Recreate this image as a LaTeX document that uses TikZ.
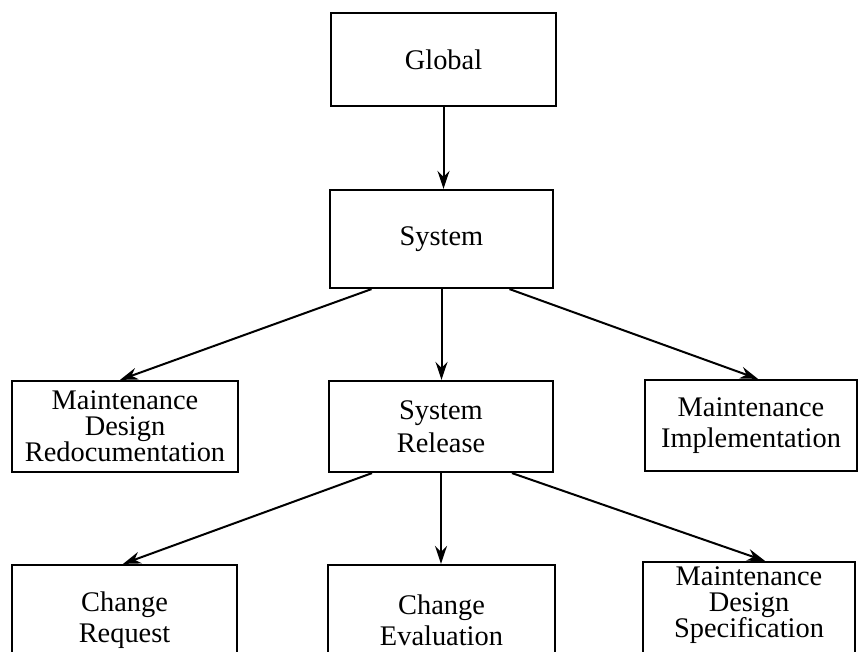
\documentclass[tikz,border=0pt]{standalone}
\usepackage{fontspec}
\setmainfont{Liberation Serif}
\usetikzlibrary{arrows.meta,calc}
\newcommand\tightlines{\fontsize{14.2}{13}\selectfont\lineskiplimit=-100pt\relax}
\begin{document}
\begin{tikzpicture}[x=0.5pt,y=-0.5pt,
  blk/.style={draw, line width=1.1pt, align=center, inner sep=0pt,
    font=\fontsize{14.2}{15.5}\selectfont},
  tight/.style={font=\tightlines},
  arr/.style={-{Stealth[length=9pt,width=6pt]}, line width=1pt}]
 \useasboundingbox (0,0) rectangle (858,652);
 \clip (0,0) rectangle (858,652);
 % top
 \node[blk, minimum width=112.5pt, minimum height=46.5pt] (glob) at (443.5,59.5) {Global};
 \node[blk, minimum width=111.5pt, minimum height=49pt] (sys) at (441.5,239) {System};
 % middle row
 \node[blk, tight, minimum width=113pt, minimum height=45.5pt] (mdr) at (125,426.5) {Maintenance\\Design\\Redocumentation};
 \node[blk, font=\fontsize{14.2}{16.5}\selectfont, minimum width=112pt, minimum height=45.5pt] (rel) at (441,426.5) {System\\Release};
 \node[blk, minimum width=106pt, minimum height=45.5pt] (mi) at (751,425.5) {Maintenance\\Implementation};
 % bottom row
 \node[blk, minimum width=112.5pt, minimum height=55pt] (creq) at (124.5,620) {Change\\Request};
 \node[blk, minimum width=113.5pt, minimum height=55pt] (ceval) at (441.5,620) {Change\\Evaluation};
 \node[blk, tight, text depth=15pt, minimum width=106pt, minimum height=55pt] (mds) at (749,617) {Maintenance\\Design\\Specification};
 % arrows
 \draw[arr] (glob.south) -- (glob.south |- sys.north);
 \draw[arr] ($(sys.south)+(-70,0)$) -- ($(mdr.north)+(-5,0)$);
 \draw[arr] (sys.south) -- (sys.south |- rel.north);
 \draw[arr] ($(sys.south)+(68,0)$) -- ($(mi.north)+(7,0)$);
 \draw[arr] ($(rel.south)+(-69,0)$) -- ($(creq.north)+(-1.5,0)$);
 \draw[arr] (rel.south) -- (rel.south |- ceval.north);
 \draw[arr] ($(rel.south)+(71,0)$) -- ($(mds.north)+(16,0)$);
\end{tikzpicture}
\end{document}
